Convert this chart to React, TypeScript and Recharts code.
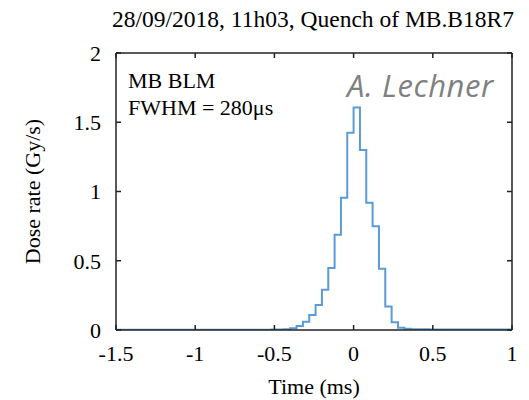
import React from 'react';
import { LineChart, Line, XAxis, YAxis } from 'recharts';

// Histogram bin start times (ms) and dose rate (Gy/s), step-after
const binStart = [-1.5, -0.52, -0.44, -0.4, -0.36, -0.32, -0.28, -0.24, -0.2, -0.16, -0.12, -0.08, -0.04, 0.0, 0.04, 0.08, 0.12, 0.16, 0.2, 0.24, 0.28, 0.32, 0.36, 0.48, 1.0];
const doseRate = [0.001, 0.003, 0.006, 0.012, 0.029, 0.06, 0.109, 0.181, 0.29, 0.447, 0.688, 0.954, 1.425, 1.607, 1.3, 0.918, 0.749, 0.442, 0.169, 0.056, 0.017, 0.009, 0.005, 0.003, 0.003];

const xTicks = [-1.5, -1, -0.5, 0, 0.5, 1];
const yTicks = [0, 0.5, 1, 1.5, 2];
const xTickLabels = ['-1.5', '-1', '-0.5', '0', '0.5', '1'];
const yTickLabels = ['0', '0.5', '1', '1.5', '2'];

const titleText = '28/09/2018, 11h03, Quench of MB.B18R7';
const annot1 = 'MB BLM';
const annot2 = 'FWHM = 280\u03bcs';
const author = 'A. Lechner';

const data = binStart.map((t, i) => ({ t, v: doseRate[i] }));

const serif = "'Liberation Serif', 'Times New Roman', serif";
const tickStyle = { fontFamily: serif, fontSize: 22, fill: '#000' };
const axisLine = { stroke: '#222', strokeWidth: 1.5 };
const noLabel = () => '';

export default function App() {
  return (
    <div style={{ position: 'absolute', left: 0, top: 0, width: 529, height: 400, background: '#fff' }}>
      <LineChart width={529} height={400} data={data} margin={{ top: 52, right: 16, bottom: 0, left: 0 }}>
        <XAxis
          xAxisId="b"
          dataKey="t"
          type="number"
          domain={[-1.5, 1]}
          allowDataOverflow
          ticks={xTicks}
          tickFormatter={(v: number) => xTickLabels[xTicks.indexOf(v)] ?? String(v)}
          orientation="bottom"
          height={70}
          tickSize={-5}
          tickMargin={20}
          tick={tickStyle}
          axisLine={axisLine}
          tickLine={axisLine}
          interval={0}
          label={{ value: 'Time (ms)', position: 'insideBottom', offset: 6, style: { fontFamily: serif, fontSize: 22, fill: '#000' } }}
        />
        <XAxis
          xAxisId="t"
          dataKey="t"
          type="number"
          domain={[-1.5, 1]}
          allowDataOverflow
          ticks={xTicks}
          orientation="top"
          height={1}
          tickSize={-5}
          tickFormatter={noLabel}
          tick={tickStyle}
          axisLine={axisLine}
          tickLine={axisLine}
          interval={0}
        />
        <YAxis
          yAxisId="l"
          type="number"
          domain={[0, 2]}
          allowDataOverflow
          ticks={yTicks}
          tickFormatter={(v: number) => yTickLabels[yTicks.indexOf(v)] ?? String(v)}
          width={116}
          tickSize={-5}
          tickMargin={20}
          tick={tickStyle}
          axisLine={axisLine}
          tickLine={axisLine}
          interval={0}
          label={{ value: 'Dose rate (Gy/s)', angle: -90, position: 'insideLeft', offset: 32, style: { textAnchor: 'middle', fontFamily: serif, fontSize: 22, fill: '#000' } }}
        />
        <YAxis
          yAxisId="r"
          type="number"
          orientation="right"
          domain={[0, 2]}
          allowDataOverflow
          ticks={yTicks}
          width={1}
          tickSize={-5}
          tickFormatter={noLabel}
          tick={tickStyle}
          axisLine={axisLine}
          tickLine={axisLine}
          interval={0}
        />
        <Line
          xAxisId="b"
          yAxisId="l"
          type="stepAfter"
          dataKey="v"
          stroke="#5b9bd5"
          strokeWidth={2}
          dot={false}
          activeDot={false}
          isAnimationActive={false}
        />
      </LineChart>
      <svg width={529} height={400} style={{ position: 'absolute', left: 0, top: 0, pointerEvents: 'none' }}>
        <text x={313} y={27} textAnchor="middle" style={{ fontFamily: serif, fontSize: 23.5, fill: '#000' }}>{titleText}</text>
        <text x={128} y={88} style={{ fontFamily: serif, fontSize: 22, fill: '#000' }}>{annot1}</text>
        <text x={128} y={115} style={{ fontFamily: serif, fontSize: 22, fill: '#000' }}>{annot2}</text>
        <text x={347} y={97} style={{ fontFamily: "'Open Sans', sans-serif", fontStyle: 'italic', fontSize: 31, letterSpacing: 0.6, fill: '#808080' }}>{author}</text>
      </svg>
    </div>
  );
}
